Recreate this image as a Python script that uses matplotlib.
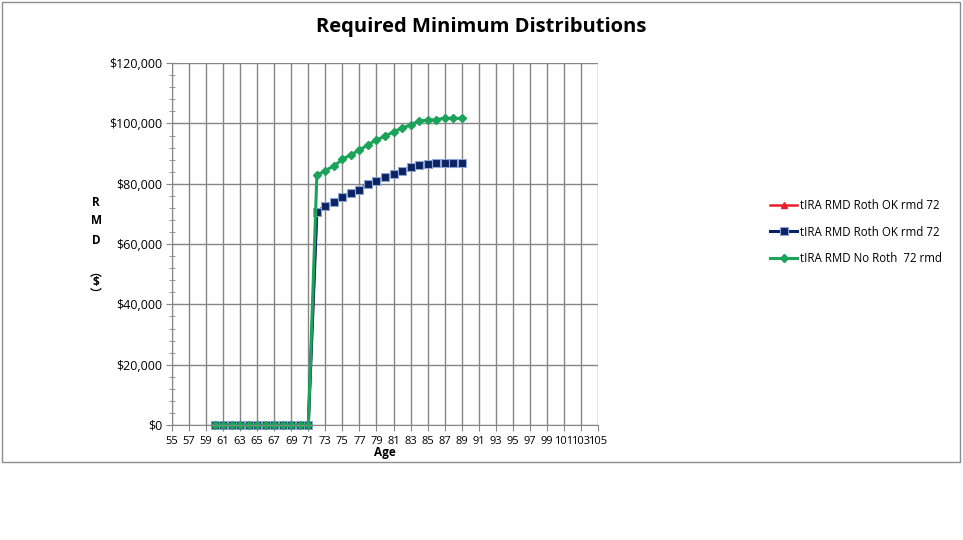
import matplotlib
matplotlib.use("Agg")
import matplotlib.pyplot as plt
from matplotlib.patches import Rectangle
from matplotlib.ticker import MultipleLocator

plt.rcParams['font.family'] = ['Open Sans', 'DejaVu Sans']

# ages and RMD values
ages = list(range(60, 90))
roth_ok = [0] * 12 + [70700, 72600, 73800, 75700, 77100, 78100, 79800, 80900,
                      82300, 83400, 84300, 85400, 86200, 86600, 86900, 87000,
                      87000, 87000]
no_roth = [0] * 12 + [82800, 84400, 85900, 88100, 89700, 91100, 93000, 94500,
                      95800, 97200, 98500, 99500, 100800, 101100, 101300, 101700,
                      101700, 101700]
series_names = ['tIRA RMD Roth OK rmd 72', 'tIRA RMD Roth OK rmd 72',
                'tIRA RMD No Roth  72 rmd']
x_ticks = list(range(55, 106, 2))
y_ticks = list(range(0, 120001, 20000))

fig = plt.figure(figsize=(9.63, 5.4), dpi=100)
fig.patches.append(Rectangle((0.002, 0.145), 0.995, 0.851, transform=fig.transFigure,
                             fill=False, edgecolor='#8c8c8c', linewidth=1))

ax = fig.add_axes([0.1786, 0.213, 0.4424, 0.670])

# red series sits right under the blue one (same values)
ax.plot(ages, roth_ok, color='#e8202a', linewidth=1.8, marker='^', markersize=5,
        label=series_names[0], clip_on=False)
ax.plot(ages, roth_ok, color='#0b2362', linewidth=2.2, marker='s', markersize=5.5,
        markerfacecolor='#0b2362', markeredgecolor='#8ea4d2', markeredgewidth=0.8,
        label=series_names[1], clip_on=False)
ax.plot(ages, no_roth, color='#1ba35a', linewidth=2.2, marker='D', markersize=4.5,
        markerfacecolor='#1ba35a', markeredgecolor='#1ba35a', label=series_names[2],
        clip_on=False)

ax.set_xlim(55, 105)
ax.set_ylim(0, 120000)
ax.set_xticks(x_ticks)
ax.set_xticklabels([str(a) for a in x_ticks], fontsize=8)
ax.set_yticks(y_ticks)
ax.set_yticklabels(['${:,}'.format(v) for v in y_ticks], fontsize=9)
ax.yaxis.set_minor_locator(MultipleLocator(4000))
ax.tick_params(axis='y', which='major', direction='inout', length=8, color='#868686', pad=3)
ax.tick_params(axis='y', which='minor', direction='inout', length=5, color='#868686')
ax.tick_params(axis='x', which='major', direction='out', length=4, color='#868686', pad=4)
ax.grid(True, which='major', color='#868686', linewidth=1)
ax.set_axisbelow(True)
for side in ['top', 'right']:
    ax.spines[side].set_visible(False)
for side in ['left', 'bottom']:
    ax.spines[side].set_color('#868686')

ax.set_xlabel('Age', fontsize=8.5, fontweight='bold', labelpad=-1)

# stacked y-axis title
fig.text(96 / 963, 1 - 221 / 540, 'R\nM\nD', ha='center', va='center', fontsize=8.5,
         fontweight='bold', linespacing=1.6)
fig.text(96 / 963, 1 - 283 / 540, '︵\n$\n︶', ha='center', va='center', fontsize=8.5,
         fontweight='bold', linespacing=0.8,
         family=['Open Sans', 'Noto Sans CJK JP', 'DejaVu Sans'])

fig.text(481 / 963, 1 - 27 / 540, 'Required Minimum Distributions', ha='center',
         va='center', fontsize=14.5, fontweight='bold')

fig.legend(loc='center left', bbox_to_anchor=(760 / 963, 1 - 232 / 540), frameon=False,
           fontsize=8.3, handlelength=2.3, handletextpad=0.3, labelspacing=1.15)

fig.savefig('out.png', dpi=100)
